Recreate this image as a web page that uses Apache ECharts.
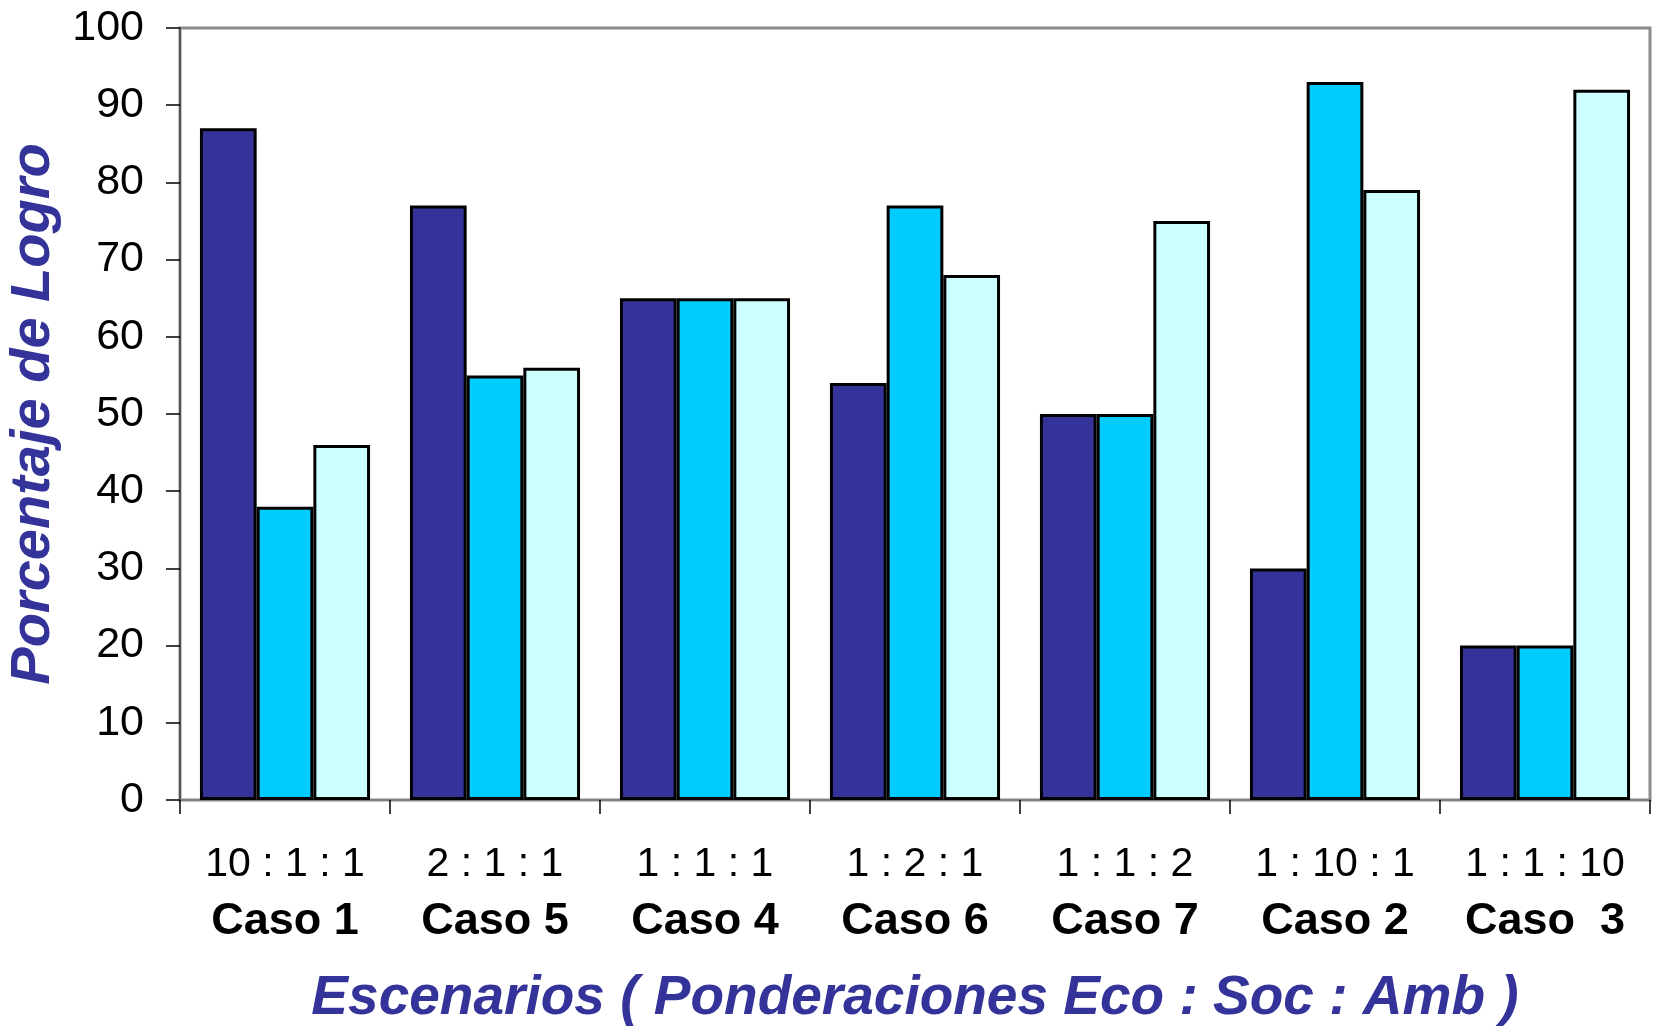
<!DOCTYPE html>
<html>
<head>
<meta charset="utf-8">
<title>Porcentaje de Logro</title>
<script src="https://cdn.jsdelivr.net/npm/echarts@6.0.0/dist/echarts.min.js"></script>
<style>
    html, body { margin: 0; padding: 0; background: #fff; }
    #grafico { width: 1656px; height: 1026px; }
</style>
</head>
<body>
<div id="grafico"></div>
<script>
// datos
var casos = ['Caso 1', 'Caso 5', 'Caso 4', 'Caso 6', 'Caso 7', 'Caso 2', 'Caso  3'];
var ponderaciones = ['10 : 1 : 1', '2 : 1 : 1', '1 : 1 : 1', '1 : 2 : 1', '1 : 1 : 2', '1 : 10 : 1', '1 : 1 : 10'];
var eco = [87, 77, 65, 54, 50, 30, 20];
var soc = [38, 55, 65, 77, 50, 93, 20];
var amb = [46, 56, 65, 68, 75, 79, 92];
var yTicks = [0, 10, 20, 30, 40, 50, 60, 70, 80, 90, 100];

var fuente = "'Liberation Sans', Arial, sans-serif";

var myChart = echarts.init(document.getElementById('grafico'));

function serie(nombre, datos, color) {
    return {
        name: nombre,
        type: 'bar',
        data: datos,
        barGap: '0%',
        barCategoryGap: '19%',
        itemStyle: {
            color: color,
            borderColor: '#000',
            borderWidth: 3
        }
    };
}

var option = {
    animation: false,
    backgroundColor: '#fff',
    grid: {
        left: 180,
        right: 6,
        top: 28,
        bottom: 226,
        show: true,
        borderColor: '#8c8c8c',
        borderWidth: 3,
        outerBoundsMode: 'none'
    },
    xAxis: {
        type: 'category',
        data: casos,
        name: 'Escenarios ( Ponderaciones Eco : Soc : Amb )',
        nameLocation: 'middle',
        nameGap: 171,
        nameTextStyle: {
            fontFamily: fuente,
            fontSize: 55,
            fontWeight: 'bold',
            fontStyle: 'italic',
            color: '#333399'
        },
        axisLine: { lineStyle: { color: '#808080', width: 2 } },
        axisTick: { show: true, length: 14, lineStyle: { color: '#000', width: 1.5 } },
        axisLabel: {
            margin: 36,
            interval: 0,
            formatter: function (value, idx) {
                return '{r|' + ponderaciones[idx] + '}\n{c|' + value + '}';
            },
            rich: {
                r: { fontFamily: fuente, fontSize: 41, color: '#000', lineHeight: 57 },
                c: { fontFamily: fuente, fontSize: 45, fontWeight: 'bold', color: '#000', lineHeight: 57 }
            }
        },
        splitLine: { show: false }
    },
    yAxis: {
        type: 'value',
        min: yTicks[0],
        max: yTicks[yTicks.length - 1],
        interval: 10,
        name: 'Porcentaje de Logro',
        nameLocation: 'middle',
        nameGap: 106,
        nameTextStyle: {
            fontFamily: fuente,
            fontSize: 56,
            fontWeight: 'bold',
            fontStyle: 'italic',
            color: '#333399'
        },
        axisLine: { show: true, lineStyle: { color: '#555', width: 2 } },
        axisTick: { show: true, length: 14, lineStyle: { color: '#000', width: 1.5 } },
        axisLabel: {
            margin: 36,
            fontFamily: fuente,
            fontSize: 43,
            color: '#000'
        },
        splitLine: { show: false }
    },
    series: [
        serie('Eco', eco, '#333399'),
        serie('Soc', soc, '#00CCFF'),
        serie('Amb', amb, '#CCFFFF')
    ]
};

myChart.setOption(option);
</script>
</body>
</html>
